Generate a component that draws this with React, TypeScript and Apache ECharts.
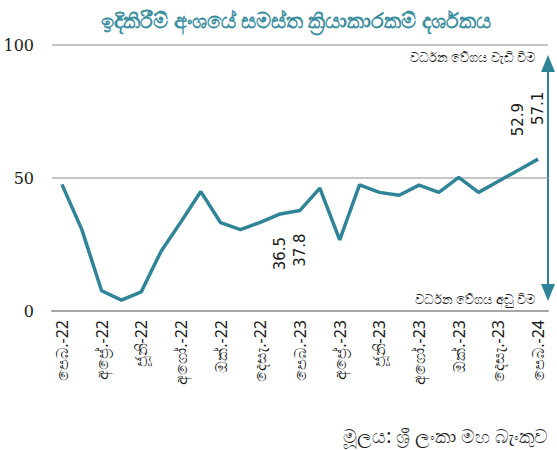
import React, { useEffect, useRef } from "react";
import * as echarts from "echarts";

const categories = [
  "පෙබ.-22", "මාර්තු-22", "අප්‍රේ.-22", "මැයි-22", "ජූනි-22", "ජූලි-22", "අගෝ.-22", "සැප්.-22", "ඔක්.-22", "නොවැ.-22", "දෙසැ.-22",
  "ජන.-23", "පෙබ.-23", "මාර්තු-23", "අප්‍රේ.-23", "මැයි-23", "ජූනි-23", "ජූලි-23", "අගෝ.-23", "සැප්.-23", "ඔක්.-23", "නොවැ.-23", "දෙසැ.-23",
  "ජන.-24", "පෙබ.-24",
];
const pmiValues = [
  47.6, 30.7, 7.6, 4.1, 7.2, 22.5, 33.5, 44.9, 33.2, 30.6, 33.3,
  36.5, 37.8, 46.2, 26.7, 47.4, 44.6, 43.5, 47.3, 44.6, 50.2, 44.6, 48.8,
  52.9, 57.1,
];
const labelBelow = [11, 12];
const labelAbove = [23, 24];
const yTicks = [0, 50, 100];

const TITLE = "ඉදිකිරීම් අංශයේ සමස්ත ක්‍රියාකාරකම් දර්ශකය";
const UP_TEXT = "වර්ධන වේගය වැඩි වීම";
const DOWN_TEXT = "වර්ධන වේගය අඩු වීම";
const SOURCE = "මූලය: ශ්‍රී ලංකා මහ බැංකුව";

const TEAL = "#2f8597";

export default function App() {
  const ref = useRef<HTMLDivElement>(null);
  useEffect(() => {
    if (!ref.current) return;
    const chart = echarts.init(ref.current, null, { renderer: "svg" });
    const data = pmiValues.map((v, i) => {
      if (labelBelow.includes(i)) {
        return {
          value: v,
          label: {
            show: true,
            position: "bottom",
            rotate: 90,
            align: "right",
            verticalAlign: "middle",
            distance: 23,
          },
        };
      }
      if (labelAbove.includes(i)) {
        return {
          value: v,
          label: {
            show: true,
            position: "top",
            rotate: 90,
            align: "left",
            verticalAlign: "middle",
            distance: 34,
          },
        };
      }
      return v;
    });
    chart.setOption({
      animation: false,
      title: {
        text: TITLE,
        left: 291,
        textAlign: "center",
        top: 4,
        textStyle: {
          color: "#3a8e9e",
          fontSize: 21,
          fontWeight: "bold",
          fontFamily: "Noto Sans, sans-serif",
        },
      },
      grid: { left: 52, right: 9, top: 45, bottom: 139, containLabel: false },
      xAxis: {
        type: "category",
        data: categories,
        boundaryGap: true,
        axisLine: { lineStyle: { color: "#a6a6a6", width: 2 } },
        axisTick: { show: false },
        axisLabel: {
          interval: 1,
          rotate: 90,
          margin: 9,
          color: "#1a1a1a",
          fontSize: 16,
          fontFamily: "Noto Sans, sans-serif",
        },
      },
      yAxis: {
        type: "value",
        min: yTicks[0],
        max: yTicks[yTicks.length - 1],
        interval: 50,
        axisLine: { show: false },
        axisTick: { show: false },
        axisLabel: {
          margin: 18,
          color: "#1a1a1a",
          fontSize: 16,
          fontFamily: "DejaVu Serif, serif",
        },
        splitLine: { lineStyle: { color: "#b3b3b3", width: 1.5 } },
      },
      series: [
        {
          type: "line",
          data,
          symbol: "circle",
          symbolSize: 0,
          showSymbol: true,
          lineStyle: { color: TEAL, width: 3.5 },
          itemStyle: { color: TEAL },
          label: {
            color: "#1a1a1a",
            fontSize: 15,
            fontFamily: "DejaVu Sans, sans-serif",
          },
        },
      ],
      graphic: [
        {
          type: "line",
          shape: { x1: 548, y1: 70, x2: 548, y2: 287 },
          style: { stroke: TEAL, lineWidth: 2 },
        },
        {
          type: "polygon",
          shape: { points: [[548, 55], [541, 72], [555, 72]] },
          style: { fill: TEAL },
        },
        {
          type: "polygon",
          shape: { points: [[548, 301], [541, 284], [555, 284]] },
          style: { fill: TEAL },
        },
        {
          type: "text",
          x: 535,
          y: 57,
          style: {
            text: UP_TEXT,
            align: "right",
            verticalAlign: "middle",
            fontSize: 13,
            fill: "#1a1a1a",
            fontFamily: "Noto Sans, sans-serif",
          },
        },
        {
          type: "text",
          x: 535,
          y: 299,
          style: {
            text: DOWN_TEXT,
            align: "right",
            verticalAlign: "middle",
            fontSize: 13,
            fill: "#1a1a1a",
            fontFamily: "Noto Sans, sans-serif",
          },
        },
        {
          type: "text",
          x: 548,
          y: 436,
          style: {
            text: SOURCE,
            align: "right",
            verticalAlign: "middle",
            fontSize: 19,
            fill: "#1a1a1a",
            fontFamily: "Noto Sans, sans-serif",
          },
        },
      ],
    });
    return () => chart.dispose();
  }, []);
  return <div ref={ref} style={{ width: 557, height: 450, position: "absolute", left: 0, top: 0 }} />;
}
